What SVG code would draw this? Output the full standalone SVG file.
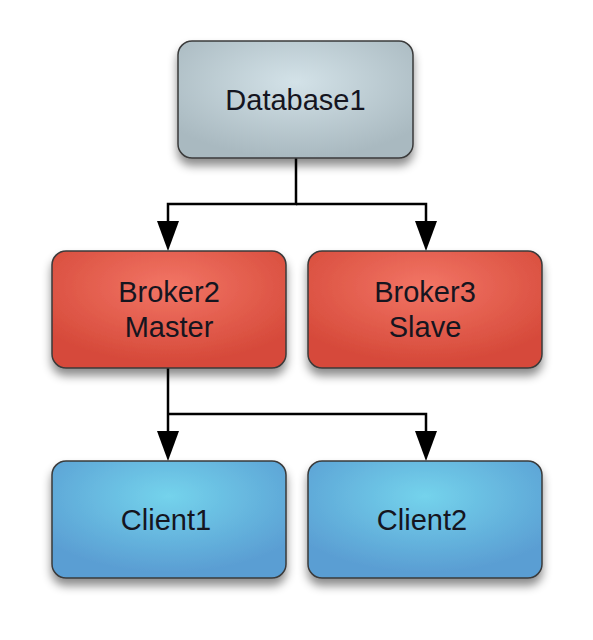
<svg xmlns="http://www.w3.org/2000/svg" width="593" height="640" viewBox="0 0 593 640">
<style>
.box{stroke:#3a3a3a;stroke-width:1.5}
.lbl{font-family:"Liberation Sans",Arial,sans-serif;font-size:29px;fill:#15151f;text-anchor:middle}
.conn{fill:none;stroke:#000;stroke-width:2.5}
</style>
<defs>
<filter id="sh" x="-20%" y="-20%" width="140%" height="150%">
<feDropShadow dx="0" dy="7" stdDeviation="5" flood-color="#000" flood-opacity="0.45"/>
</filter>
<radialGradient id="gGray" cx="0.5" cy="0.35" r="0.65">
<stop offset="0" stop-color="#d3e2e8"/>
<stop offset="1" stop-color="#a9b9c0"/>
</radialGradient>
<radialGradient id="gRed" cx="0.5" cy="0.3" r="0.65">
<stop offset="0" stop-color="#f27565"/>
<stop offset="1" stop-color="#d64a3a"/>
</radialGradient>
<radialGradient id="gBlue" cx="0.5" cy="0.3" r="0.65">
<stop offset="0" stop-color="#74d3ec"/>
<stop offset="1" stop-color="#5a9ed3"/>
</radialGradient>
<marker id="ah" markerUnits="userSpaceOnUse" markerWidth="24" markerHeight="30" refX="22" refY="11" orient="auto" viewBox="0 0 24 22">
<path d="M0,0 L22,11 L0,22 Z" fill="#000"/>
</marker>
</defs>
<rect width="593" height="640" fill="#fff"/>
<g id="connectors">
<path class="conn" d="M296,158 V204 H168 V225"/>
<path class="conn" d="M296,204 H426 V225"/>
<path d="M157,221 L179,221 L168,251 Z" fill="#000"/>
<path d="M415,221 L437,221 L426,251 Z" fill="#000"/>
<path class="conn" d="M168,368 V414 H168 V435"/>
<path class="conn" d="M168,414 H426 V435"/>
<path d="M157,431 L179,431 L168,461 Z" fill="#000"/>
<path d="M415,431 L437,431 L426,461 Z" fill="#000"/>
</g>
<g id="database1">
<rect class="box" x="178" y="41" width="235" height="117" rx="14" fill="url(#gGray)" filter="url(#sh)"/>
<text class="lbl" x="295.5" y="110">Database1</text>
</g>
<g id="broker2">
<rect class="box" x="52" y="251" width="234" height="117" rx="14" fill="url(#gRed)" filter="url(#sh)"/>
<text class="lbl" x="169" y="302">Broker2</text>
<text class="lbl" x="169" y="337">Master</text>
</g>
<g id="broker3">
<rect class="box" x="308" y="251" width="234" height="117" rx="14" fill="url(#gRed)" filter="url(#sh)"/>
<text class="lbl" x="425" y="302">Broker3</text>
<text class="lbl" x="425" y="337">Slave</text>
</g>
<g id="client1">
<rect class="box" x="52" y="461" width="234" height="117" rx="14" fill="url(#gBlue)" filter="url(#sh)"/>
<text class="lbl" x="166" y="530">Client1</text>
</g>
<g id="client2">
<rect class="box" x="308" y="461" width="234" height="117" rx="14" fill="url(#gBlue)" filter="url(#sh)"/>
<text class="lbl" x="422" y="530">Client2</text>
</g>
</svg>
